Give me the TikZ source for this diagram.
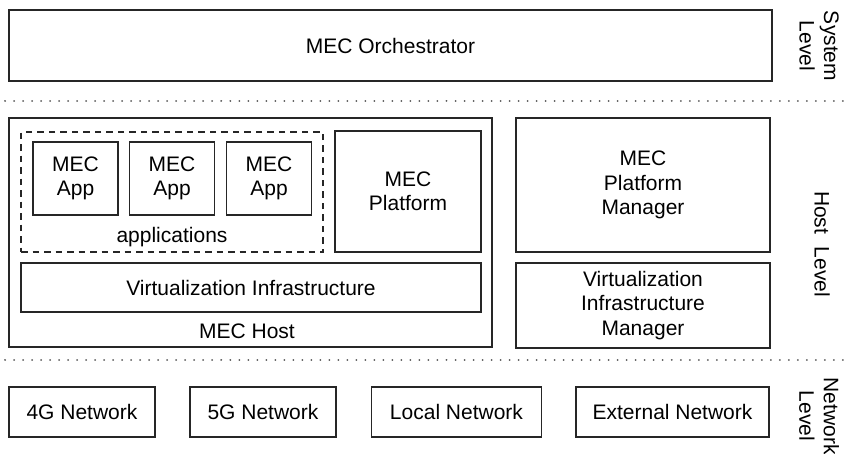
\documentclass[tikz,border=0pt]{standalone}
\usepackage{fontspec}
\setmainfont{Liberation Sans}
\begin{document}
\begin{tikzpicture}[x=1pt,y=-1pt,
  box/.style={draw=black!85,line width=1.7pt,rectangle,inner sep=0pt,align=center,font=\fontsize{21}{24.5}\selectfont},
  dashbox/.style={draw=black!85,line width=1.7pt,dash pattern=on 6.5pt off 5pt,rectangle,inner sep=0pt},
  lbl/.style={inner sep=0pt,align=center,font=\fontsize{21}{24.5}\selectfont},
  sep/.style={draw=black!65,line width=2pt,dash pattern=on 0.01pt off 9pt,line cap=round}]
\useasboundingbox[fill=white] (0,0) rectangle (849,453);
% System level
\node[box,minimum width=763pt,minimum height=71pt] (orch) at (390.5,45.5) {MEC Orchestrator};
\node[lbl,rotate=-90] (sys) at (819,46) {System\\Level};
% separators
\coordinate (s1a) at (5,101);
\coordinate (s1b) at (849,101);
\draw[sep] (s1a) -- (s1b);
\coordinate (s2a) at (5,360);
\coordinate (s2b) at (849,360);
\draw[sep] (s2a) -- (s2b);
% Host level
\node[box,minimum width=483pt,minimum height=229pt] (host) at (250.5,232.5) {};
\node[dashbox,minimum width=302pt,minimum height=120pt] (apps) at (172,192) {};
\node[box,minimum width=85pt,minimum height=73pt] (app1) at (75.5,178.5) {MEC\\App};
\node[box,minimum width=85pt,minimum height=73pt] (app2) at (172,178.5) {MEC\\App};
\node[box,minimum width=85pt,minimum height=73pt] (app3) at (269,178.5) {MEC\\App};
\node[lbl] (appl) at (172,237) {applications};
\node[box,minimum width=146pt,minimum height=121pt] (plat) at (408,191.5) {MEC\\Platform};
\node[box,minimum width=460pt,minimum height=49pt] (vi) at (251,287.5) {Virtualization Infrastructure};
\node[lbl] (hostl) at (247,331) {MEC Host};
\node[box,minimum width=254pt,minimum height=134pt] (pm) at (643,185) {MEC\\Platform\\Manager};
\node[box,minimum width=254pt,minimum height=85pt] (vim) at (643,305.5) {Virtualization\\Infrastructure\\Manager};
\node[lbl,rotate=-90] (hostlvl) at (822,244) {Host\hspace{0.6em}Level};
% Network level
\node[box,minimum width=146pt,minimum height=50pt] (n4g) at (82,412) {4G Network};
\node[box,minimum width=146pt,minimum height=50pt] (n5g) at (263,412) {5G Network};
\node[box,minimum width=170pt,minimum height=50pt] (nloc) at (456.5,412) {Local Network};
\node[box,minimum width=193pt,minimum height=50pt] (next) at (672.5,412) {External Network};
\node[lbl,rotate=-90] (netl) at (819,416) {Network\\Level};
\end{tikzpicture}
\end{document}
